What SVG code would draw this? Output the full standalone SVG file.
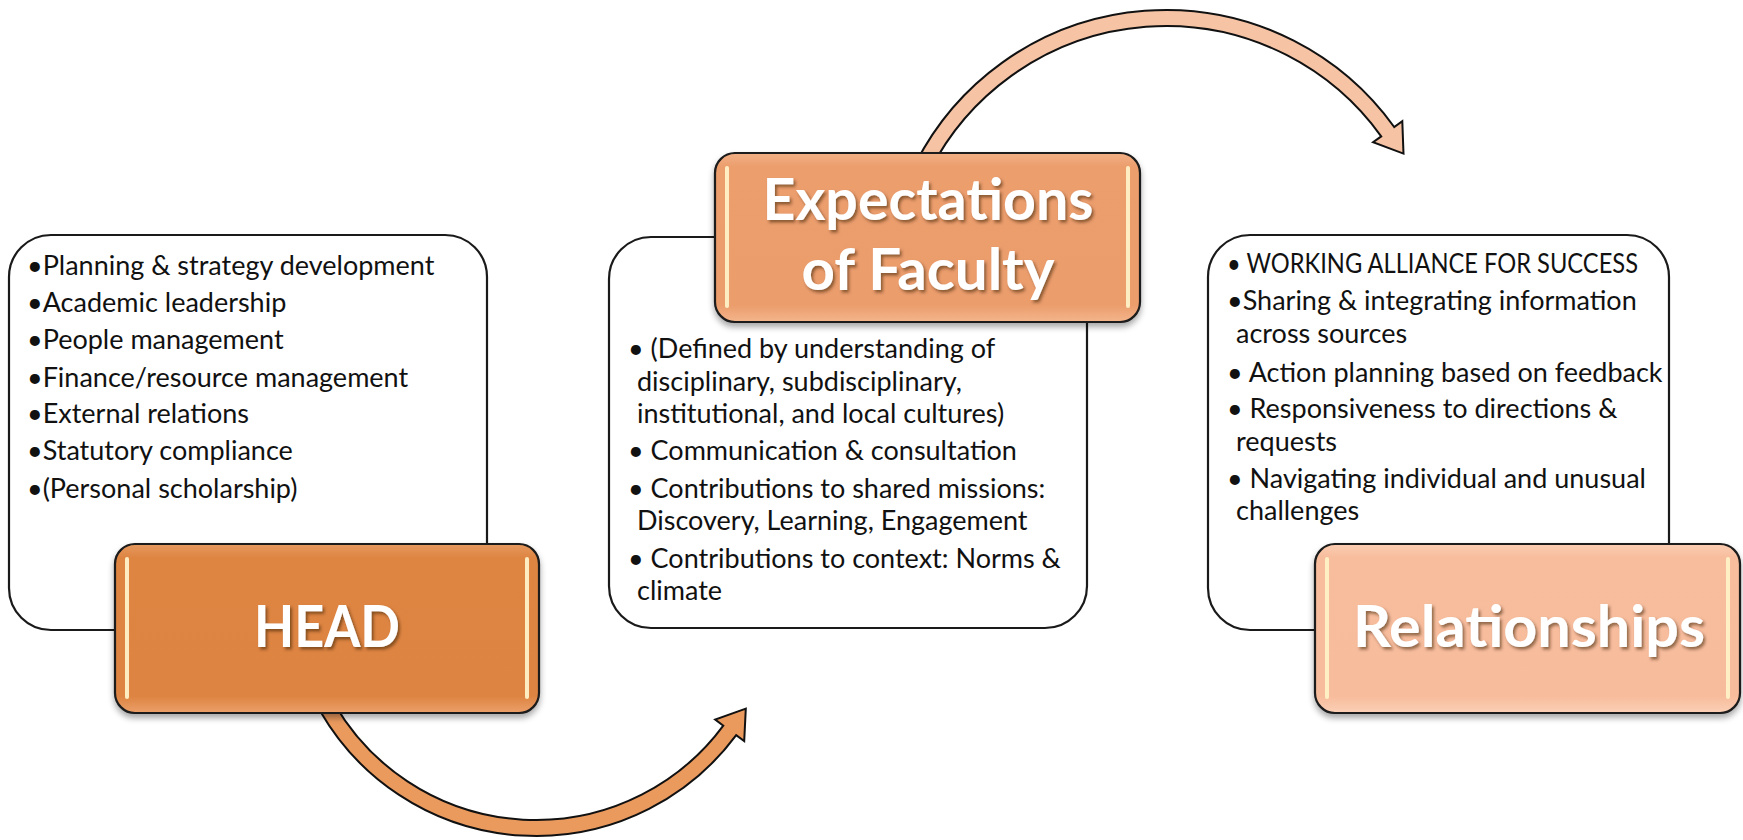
<svg xmlns="http://www.w3.org/2000/svg" width="1743" height="840" viewBox="0 0 1743 840">
  <style>
    .panel { fill: #ffffff; stroke: #1a1a1a; stroke-width: 2.2; }
    .tab { stroke: #1a1a1a; stroke-width: 2.2; filter: url(#boxShadow); }
    .gloss { stroke: #fff2c8; stroke-width: 4; stroke-linecap: round; opacity: 0.95; }
    .body { font-family: Lato, "Open Sans", sans-serif; font-size: 27px; fill: #111111; }
    .title { font-family: Lato, "Open Sans", sans-serif; font-weight: bold; font-size: 57px; fill: #ffffff; filter: url(#textShadow); }
    .arrow { stroke: #111111; stroke-width: 2; stroke-linejoin: miter; }
  </style>
  <defs>
    <filter id="boxShadow" x="-10%" y="-10%" width="125%" height="135%">
      <feDropShadow dx="0" dy="4" stdDeviation="3" flood-color="#000000" flood-opacity="0.35"/>
    </filter>
    <filter id="textShadow" x="-10%" y="-20%" width="130%" height="150%">
      <feDropShadow dx="2" dy="2.5" stdDeviation="1.5" flood-color="#3a1a00" flood-opacity="0.55"/>
    </filter>
    <linearGradient id="gHead" x1="0" y1="0" x2="0" y2="1">
      <stop offset="0" stop-color="#e6995f"/>
      <stop offset="0.08" stop-color="#de8543"/>
      <stop offset="0.9" stop-color="#dd8442"/>
      <stop offset="1" stop-color="#eca06a"/>
    </linearGradient>
    <linearGradient id="gExp" x1="0" y1="0" x2="0" y2="1">
      <stop offset="0" stop-color="#f2b086"/>
      <stop offset="0.08" stop-color="#ec9e6d"/>
      <stop offset="0.9" stop-color="#eb9d6c"/>
      <stop offset="1" stop-color="#f4b58c"/>
    </linearGradient>
    <linearGradient id="gRel" x1="0" y1="0" x2="0" y2="1">
      <stop offset="0" stop-color="#fbcdb2"/>
      <stop offset="0.08" stop-color="#f7bd9d"/>
      <stop offset="0.9" stop-color="#f7bc9c"/>
      <stop offset="1" stop-color="#fbd0b6"/>
    </linearGradient>
  </defs>

  <!-- curved connectors, drawn first so the tabs cover their tails -->
  <g id="connectors">
    <path class="arrow" fill="#eb9a5e" d="M 320.4 711.5 A 249 249 0 0 0 736.2 735.1 L 744.2 741.0 L 745.8 708.6 L 715.2 719.6 L 723.3 725.6 A 233 233 0 0 1 334.2 703.5 Z"/>
    <path class="arrow" fill="#f6c3a4" d="M 915.6 163.4 A 281 281 0 0 1 1394.2 127.0 L 1402.3 121.2 L 1403.5 153.6 L 1373.1 142.2 L 1381.2 136.4 A 265 265 0 0 0 929.9 170.7 Z"/>
  </g>

  <!-- HEAD -->
  <g id="head-panel">
    <rect class="panel" x="9" y="235" width="478" height="395" rx="42" ry="42"/>
    <text class="body">
      <tspan x="27" y="275">•Planning &amp; strategy development</tspan>
      <tspan x="27" y="312">•Academic leadership</tspan>
      <tspan x="27" y="349">•People management</tspan>
      <tspan x="27" y="387">•Finance/resource management</tspan>
      <tspan x="27" y="423">•External relations</tspan>
      <tspan x="27" y="460">•Statutory compliance</tspan>
      <tspan x="27" y="498">•(Personal scholarship)</tspan>
    </text>
  </g>
  <g id="head">
    <rect class="tab" fill="url(#gHead)" x="115" y="544" width="424" height="169" rx="20" ry="20"/>
    <line class="gloss" x1="127" y1="559" x2="127" y2="697"/>
    <line class="gloss" x1="527" y1="559" x2="527" y2="697"/>
    <text class="title" x="327" y="647" text-anchor="middle" textLength="146" lengthAdjust="spacingAndGlyphs">HEAD</text>
  </g>

  <!-- Expectations of Faculty -->
  <g id="expectations-panel">
    <rect class="panel" x="609" y="237" width="478" height="391" rx="42" ry="42"/>
    <text class="body">
      <tspan x="628" y="358">• (Defined by understanding of</tspan>
      <tspan x="637" y="391">disciplinary, subdisciplinary,</tspan>
      <tspan x="637" y="423">institutional, and local cultures)</tspan>
      <tspan x="628" y="460">• Communication &amp; consultation</tspan>
      <tspan x="628" y="498">• Contributions to shared missions:</tspan>
      <tspan x="637" y="530">Discovery, Learning, Engagement</tspan>
      <tspan x="628" y="568">• Contributions to context: Norms &amp;</tspan>
      <tspan x="637" y="600">climate</tspan>
    </text>
  </g>
  <g id="expectations">
    <rect class="tab" fill="url(#gExp)" x="715" y="153" width="425" height="169" rx="20" ry="20"/>
    <line class="gloss" x1="727" y1="168" x2="727" y2="306"/>
    <line class="gloss" x1="1128" y1="168" x2="1128" y2="306"/>
    <text class="title" x="928" y="220" text-anchor="middle" textLength="331" lengthAdjust="spacingAndGlyphs">Expectations</text>
    <text class="title" x="928" y="290" text-anchor="middle" textLength="253" lengthAdjust="spacingAndGlyphs">of Faculty</text>
  </g>

  <!-- Relationships -->
  <g id="relationships-panel">
    <rect class="panel" x="1208" y="235" width="461" height="395" rx="42" ry="42"/>
    <text class="body" x="1227" y="273" textLength="411" lengthAdjust="spacingAndGlyphs">• WORKING ALLIANCE FOR SUCCESS</text>
    <text class="body">
      <tspan x="1227" y="310">•Sharing &amp; integrating information</tspan>
      <tspan x="1236" y="343">across sources</tspan>
      <tspan x="1227" y="382">• Action planning based on feedback</tspan>
      <tspan x="1227" y="418">• Responsiveness to directions &amp;</tspan>
      <tspan x="1236" y="451">requests</tspan>
      <tspan x="1227" y="488">• Navigating individual and unusual</tspan>
      <tspan x="1236" y="520">challenges</tspan>
    </text>
  </g>
  <g id="relationships">
    <rect class="tab" fill="url(#gRel)" x="1315" y="544" width="425" height="169" rx="20" ry="20"/>
    <line class="gloss" x1="1327" y1="559" x2="1327" y2="697"/>
    <line class="gloss" x1="1728" y1="559" x2="1728" y2="697"/>
    <text class="title" x="1529" y="647" text-anchor="middle" textLength="352" lengthAdjust="spacingAndGlyphs">Relationships</text>
  </g>
</svg>
